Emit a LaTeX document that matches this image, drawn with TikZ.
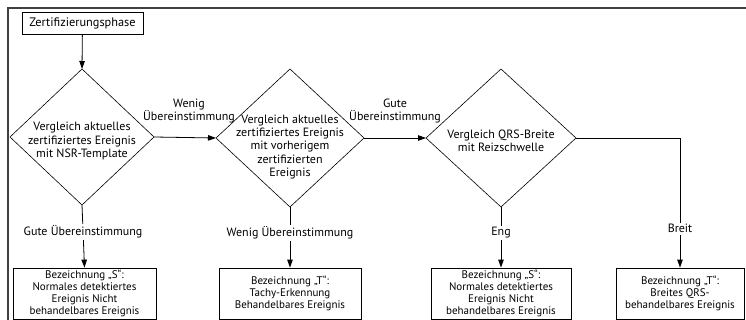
\documentclass[tikz,border=0pt]{standalone}
\usepackage{fontspec}
\setmainfont{PT Sans}
\usetikzlibrary{shapes.geometric,arrows.meta}
\begin{document}
\begin{tikzpicture}[x=1pt,y=-1pt,
  frame/.style={line width=1.3pt, draw=black!75},
  box/.style={draw, line width=0.8pt, align=center, inner sep=0pt, minimum height=51pt, font=\fontsize{11}{11.8}\selectfont},
  dia/.style={draw, diamond, line width=0.6pt, inner sep=0pt, outer sep=0pt},
  dtxt/.style={align=center, inner sep=0pt, font=\fontsize{12}{13.4}\selectfont},
  lbl/.style={fill=white, inner sep=1.5pt, font=\fontsize{12}{12.5}\selectfont},
  tlbl/.style={align=center, inner sep=0pt, font=\fontsize{12}{12.8}\selectfont},
  arr/.style={line width=0.8pt, -{Triangle[length=8pt,width=5.5pt]}}
]
\useasboundingbox (0,0) rectangle (746,320);
\draw[frame] (8,320) -- (8,8) -- (746,8);

\node[draw, line width=0.8pt, inner sep=0pt, minimum width=121pt, minimum height=22pt, font=\fontsize{12.3}{13}\selectfont] (z) at (82.5,23) {Zertifizierungsphase};

\node[dia, minimum width=144pt, minimum height=136pt] (d1) at (82,137) {};
\node[dtxt] (t1) at (82,141) {Vergleich aktuelles\\zertifiziertes Ereignis\\mit NSR-Template};

\node[dia, minimum width=148pt, minimum height=138pt] (d2) at (290,138) {};
\node[dtxt] (t2) at (290,147) {Vergleich aktuelles\\zertifiziertes Ereignis\\mit vorherigem\\zertifizierten\\Ereignis};

\node[dia, minimum width=150pt, minimum height=138pt] (d3) at (501,138) {};
\node[dtxt] (t3) at (501,141) {Vergleich QRS-Breite\\mit Reizschwelle};

\node[box, minimum width=143pt] (b1) at (84.5,293.5) {Bezeichnung „S“:\\Normales detektiertes\\Ereignis Nicht\\behandelbares Ereignis};
\node[box, minimum width=142pt] (b2) at (290,293.5) {Bezeichnung „T“:\\Tachy-Erkennung\\Behandelbares Ereignis};
\node[box, minimum width=140pt] (b3) at (501,293.5) {Bezeichnung „S“:\\Normales detektiertes\\Ereignis Nicht\\behandelbares Ereignis};
\node[box, minimum width=128pt] (b4) at (680,293.5) {Bezeichnung „T“:\\Breites QRS-\\behandelbares Ereignis};

\draw[arr] (z) -- (d1.north);
\draw[arr] (d1.east) -- (d2.west);
\draw[arr] (d2.east) -- (d3.west);
\node[tlbl, anchor=south] (l12) at (189,123) {Wenig\\Übereinstimmung};
\node[tlbl, anchor=south] (l23) at (395,123) {Gute\\Übereinstimmung};

\draw[arr] (d1.south) -- node[lbl, pos=0.43] (l1) {Gute Übereinstimmung} (b1.north);
\draw[arr] (d2.south) -- node[lbl, pos=0.43] (l2) {Wenig Übereinstimmung} (b2.north);
\draw[arr] (d3.south) -- node[lbl, pos=0.43] (l3) {Eng} (b3.north);
\draw[arr] (d3.east) -| node[lbl, pos=0.85] (l4) {Breit} (b4.north);
\end{tikzpicture}
\end{document}
